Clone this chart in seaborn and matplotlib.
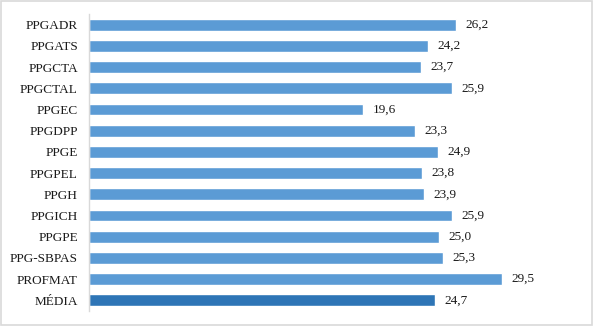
import matplotlib
matplotlib.use("Agg")
import matplotlib.pyplot as plt
import seaborn as sns
import pandas as pd

programas = ["PPGADR", "PPGATS", "PPGCTA", "PPGCTAL", "PPGEC", "PPGDPP", "PPGE",
             "PPGPEL", "PPGH", "PPGICH", "PPGPE", "PPG-SBPAS", "PROFMAT", "MÉDIA"]
valores = [26.2, 24.2, 23.7, 25.9, 19.6, 23.3, 24.9,
           23.8, 23.9, 25.9, 25.0, 25.3, 29.5, 24.7]
cores = ["#5B9BD5"] * 13 + ["#2E75B6"]

df = pd.DataFrame({"programa": programas, "valor": valores})

sns.set_theme(style="white")
plt.rcParams["font.family"] = ["Liberation Serif", "DejaVu Serif"]

fig = plt.figure(figsize=(5.94, 3.26), dpi=100)
ax = fig.add_axes([89 / 594, 1 - 311 / 326, 490 / 594, 297 / 326])

sns.barplot(data=df, x="valor", y="programa", hue="programa", palette=cores,
            orient="h", width=0.56, legend=False, ax=ax, saturation=1)

for patch, v in zip(ax.patches, valores):
    ax.annotate(f"{v:.1f}".replace(".", ","),
                (patch.get_width(), patch.get_y() + patch.get_height() / 2),
                xytext=(7, 0), textcoords="offset points",
                ha="left", va="center", fontsize=9.5, color="#1a1a1a")

ax.set_xlim(0, 35)
ax.set_ylim(13.5, -0.5)
ax.set_xlabel("")
ax.set_ylabel("")
ax.set_xticks([])
ax.tick_params(axis="y", length=0, pad=8, labelsize=9.5, labelcolor="#1a1a1a")
for s in ["top", "right", "bottom"]:
    ax.spines[s].set_visible(False)
ax.spines["left"].set_color("#d9d9d9")
ax.spines["left"].set_linewidth(1)

# thin frame around the whole figure
fig.patches.append(plt.Rectangle((0.002, 0.003), 0.995, 0.994, transform=fig.transFigure,
                                 fill=False, edgecolor="#d9d9d9", linewidth=1.2))

fig.savefig("out.png", dpi=100)
